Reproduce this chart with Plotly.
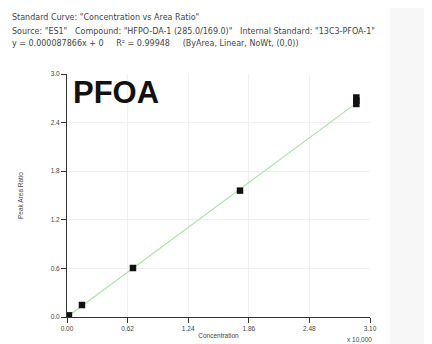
import plotly.graph_objects as go

# Data (concentration in units of 10,000; peak area ratio)
conc = [0.0, 0.005, 0.01, 0.02, 0.153, 0.675, 1.77, 2.96, 2.96, 2.96]
ratio = [0.0, 0.006, 0.012, 0.02, 0.148, 0.605, 1.56, 2.63, 2.67, 2.71]
fit_x = [0.0, 2.96]
slope = 0.892
fit_y = [slope * v for v in fit_x]

x_ticks = [0.0, 0.62, 1.24, 1.86, 2.48, 3.10]
x_tick_text = ["0.00", "0.62", "1.24", "1.86", "2.48", "3.10"]
y_ticks = [0.0, 0.6, 1.2, 1.8, 2.4, 3.0]
y_tick_text = ["0.0", "0.6", "1.2", "1.8", "2.4", "3.0"]

header = [
    'Standard Curve: "Concentration vs Area Ratio"',
    'Source: "ES1"   Compound: "HFPO-DA-1 (285.0/169.0)"   Internal Standard: "13C3-PFOA-1"',
    'y = 0.000087866x + 0     R² = 0.99948     (ByArea, Linear, NoWt, (0,0))',
]

# page is offset by the 8px body margin; work in page pixels and convert
OFF = 8
W, H = 424, 336
L, T = 67 - OFF, 74 - OFF
PW, PH = 303, 243
R = W - L - PW
B = H - T - PH

def px(xp):
    return (xp - OFF - L) / PW

def py(yp):
    return (T + PH - (yp - OFF)) / PH

fig = go.Figure()
fig.add_trace(go.Scatter(x=fit_x, y=fit_y, mode="lines",
                         line=dict(color="#a6e3a6", width=1.2), hoverinfo="skip"))
fig.add_trace(go.Scatter(x=conc, y=ratio, mode="markers",
                         marker=dict(color="#111111", size=6.5, symbol="square")))

font_family = "Liberation Sans, Arial, sans-serif"
fig.update_layout(
    width=W, height=H,
    margin=dict(l=L, r=R, t=T, b=B),
    paper_bgcolor="#f7f7f7",
    plot_bgcolor="#ffffff",
    showlegend=False,
    font=dict(family=font_family, size=6, color="#444444"),
    xaxis=dict(range=[0, 3.1], tickvals=x_ticks, ticktext=x_tick_text, automargin=False,
               showline=True, linecolor="#333333", linewidth=1,
               ticks="outside", ticklen=5, tickcolor="#333333",
               showgrid=True, gridcolor="#f0f0f0", zeroline=False,
               tickfont=dict(size=6.5),
               title=dict(text="Concentration", font=dict(size=6.5), standoff=2)),
    yaxis=dict(range=[0, 3.0], tickvals=y_ticks, ticktext=y_tick_text, automargin=False,
               showline=True, linecolor="#333333", linewidth=1,
               ticks="outside", ticklen=5, tickcolor="#333333",
               showgrid=True, gridcolor="#f0f0f0", zeroline=False,
               tickfont=dict(size=6.5),
               title=dict(text="Peak Area Ratio", font=dict(size=6.5), standoff=26)),
)

fig.add_shape(type="rect", xref="paper", yref="paper", x0=px(0), x1=px(390), y0=py(344), y1=py(0),
              fillcolor="#ffffff", line=dict(width=0), layer="below")

for i, (line, ycen) in enumerate(zip(header, [18, 31, 44])):
    fig.add_annotation(text=line, xref="paper", yref="paper", x=px(10),
                       y=py(ycen), xanchor="left", yanchor="middle",
                       showarrow=False,
                       font=dict(size=8, color="#444444", family="DejaVu Sans, sans-serif"))

fig.add_annotation(text="<b>PFOA</b>", xref="paper", yref="paper", x=px(71), y=py(73),
                   xanchor="left", yanchor="top", showarrow=False,
                   font=dict(size=31, color="#111111", family=font_family))
fig.add_annotation(text="x 10,000", xref="paper", yref="paper", x=px(374), y=py(339),
                   xanchor="right", yanchor="middle", showarrow=False,
                   font=dict(size=6.5, color="#444444"))

fig.write_html("out.html")
